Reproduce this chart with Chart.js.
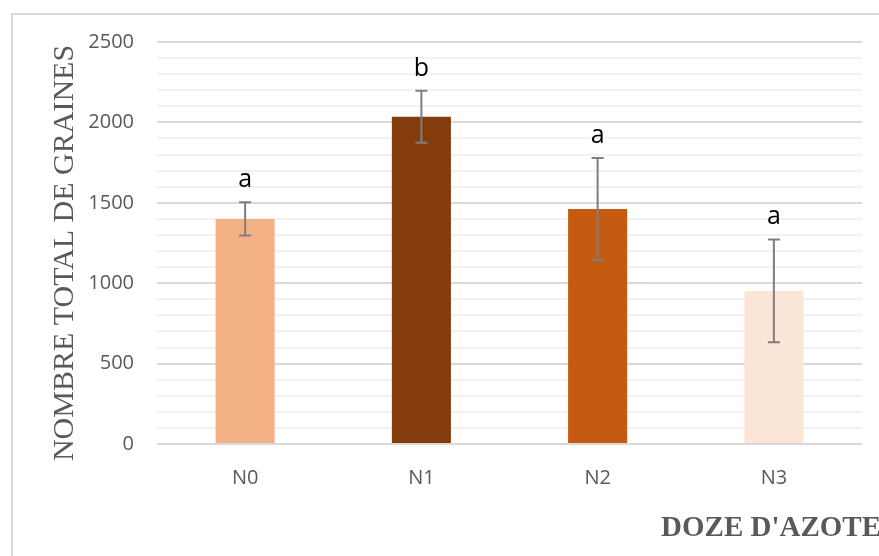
<!DOCTYPE html>
<html>
<head>
<meta charset="utf-8">
<script src="https://cdn.jsdelivr.net/npm/chart.js@4/dist/chart.umd.min.js"></script>
<style>
  html, body { margin: 0; padding: 0; background: #fff; overflow: hidden; }
  #frame { position: absolute; left: 11px; top: 13px; width: 1000px; height: 700px; border: 2px solid #d9d9d9; }
  #wrap { position: absolute; left: 0; top: 0; width: 879px; height: 556px; }
</style>
</head>
<body>
<div id="frame"></div>
<div id="wrap"><canvas id="grainChart" width="879" height="556"></canvas></div>
<script>
const categories = ['N0', 'N1', 'N2', 'N3'];
const grainTotals = [1400, 2035, 1462, 952];
const errorMargins = [103, 162, 317, 320];
const groupLetters = ['a', 'b', 'a', 'a'];
const barColors = ['#F4B183', '#843C0C', '#C55A11', '#FBE5D6'];

// error bars, significance letters and axis titles
const errorBarPlugin = {
    id: 'errorBars',
    afterDatasetsDraw(chart) {
        const ctx = chart.ctx;
        const meta = chart.getDatasetMeta(0);
        const yScale = chart.scales.y;
        ctx.save();
        meta.data.forEach(function(bar, i) {
            const x = bar.x;
            const yTop = yScale.getPixelForValue(grainTotals[i] + errorMargins[i]);
            const yBot = yScale.getPixelForValue(grainTotals[i] - errorMargins[i]);
            ctx.strokeStyle = '#7f7f7f';
            ctx.lineWidth = 2;
            ctx.beginPath();
            ctx.moveTo(x, yTop); ctx.lineTo(x, yBot);
            ctx.moveTo(x - 6, yTop); ctx.lineTo(x + 6, yTop);
            ctx.moveTo(x - 6, yBot); ctx.lineTo(x + 6, yBot);
            ctx.stroke();

            ctx.fillStyle = '#000';
            ctx.font = '25px "Open Sans"';
            ctx.textAlign = 'center';
            ctx.textBaseline = 'alphabetic';
            ctx.fillText(groupLetters[i], x, yTop - 15);
        });
        ctx.restore();
    },
    afterDraw(chart) {
        const ctx = chart.ctx;
        const area = chart.chartArea;
        ctx.save();
        ctx.fillStyle = '#595959';
        ctx.font = 'bold 29px "Liberation Serif"';
        ctx.textAlign = 'right';
        ctx.textBaseline = 'alphabetic';
        ctx.fillText("DOZE D'AZOTE", area.right + 19, 536);

        ctx.translate(73, 253);
        ctx.rotate(-Math.PI / 2);
        ctx.font = '30px "Liberation Serif"';
        ctx.textAlign = 'center';
        ctx.fillText('NOMBRE TOTAL DE GRAINES', 0, 0);
        ctx.restore();
    }
};

new Chart(document.getElementById('grainChart').getContext('2d'), {
    type: 'bar',
    data: {
        labels: categories,
        datasets: [{
            data: grainTotals,
            backgroundColor: barColors,
            borderWidth: 0,
            categoryPercentage: 1,
            barPercentage: 0.335
        }]
    },
    options: {
        responsive: false,
        animation: false,
        layout: { padding: { top: 42, right: 17, bottom: 0, left: 0 } },
        plugins: {
            legend: { display: false },
            tooltip: { enabled: false }
        },
        scales: {
            x: {
                grid: { display: false, drawTicks: false },
                border: { display: false },
                ticks: { color: '#595959', padding: 22, font: { family: 'Open Sans', size: 20 } },
                afterFit: function(scale) { scale.height = 112; }
            },
            y: {
                min: 0,
                max: 2500,
                ticks: {
                    stepSize: 100,
                    autoSkip: false,
                    color: '#595959',
                    padding: 23,
                    font: { family: 'Open Sans', size: 20 },
                    callback: function(v) { return v % 500 === 0 ? v : ''; }
                },
                grid: {
                    drawTicks: false,
                    lineWidth: 2,
                    color: function(c) { return c.tick.value % 500 === 0 ? '#d9d9d9' : '#f2f2f2'; }
                },
                border: { display: false },
                afterFit: function(scale) { scale.width = 157; }
            }
        }
    },
    plugins: [errorBarPlugin]
});
</script>
</body>
</html>
